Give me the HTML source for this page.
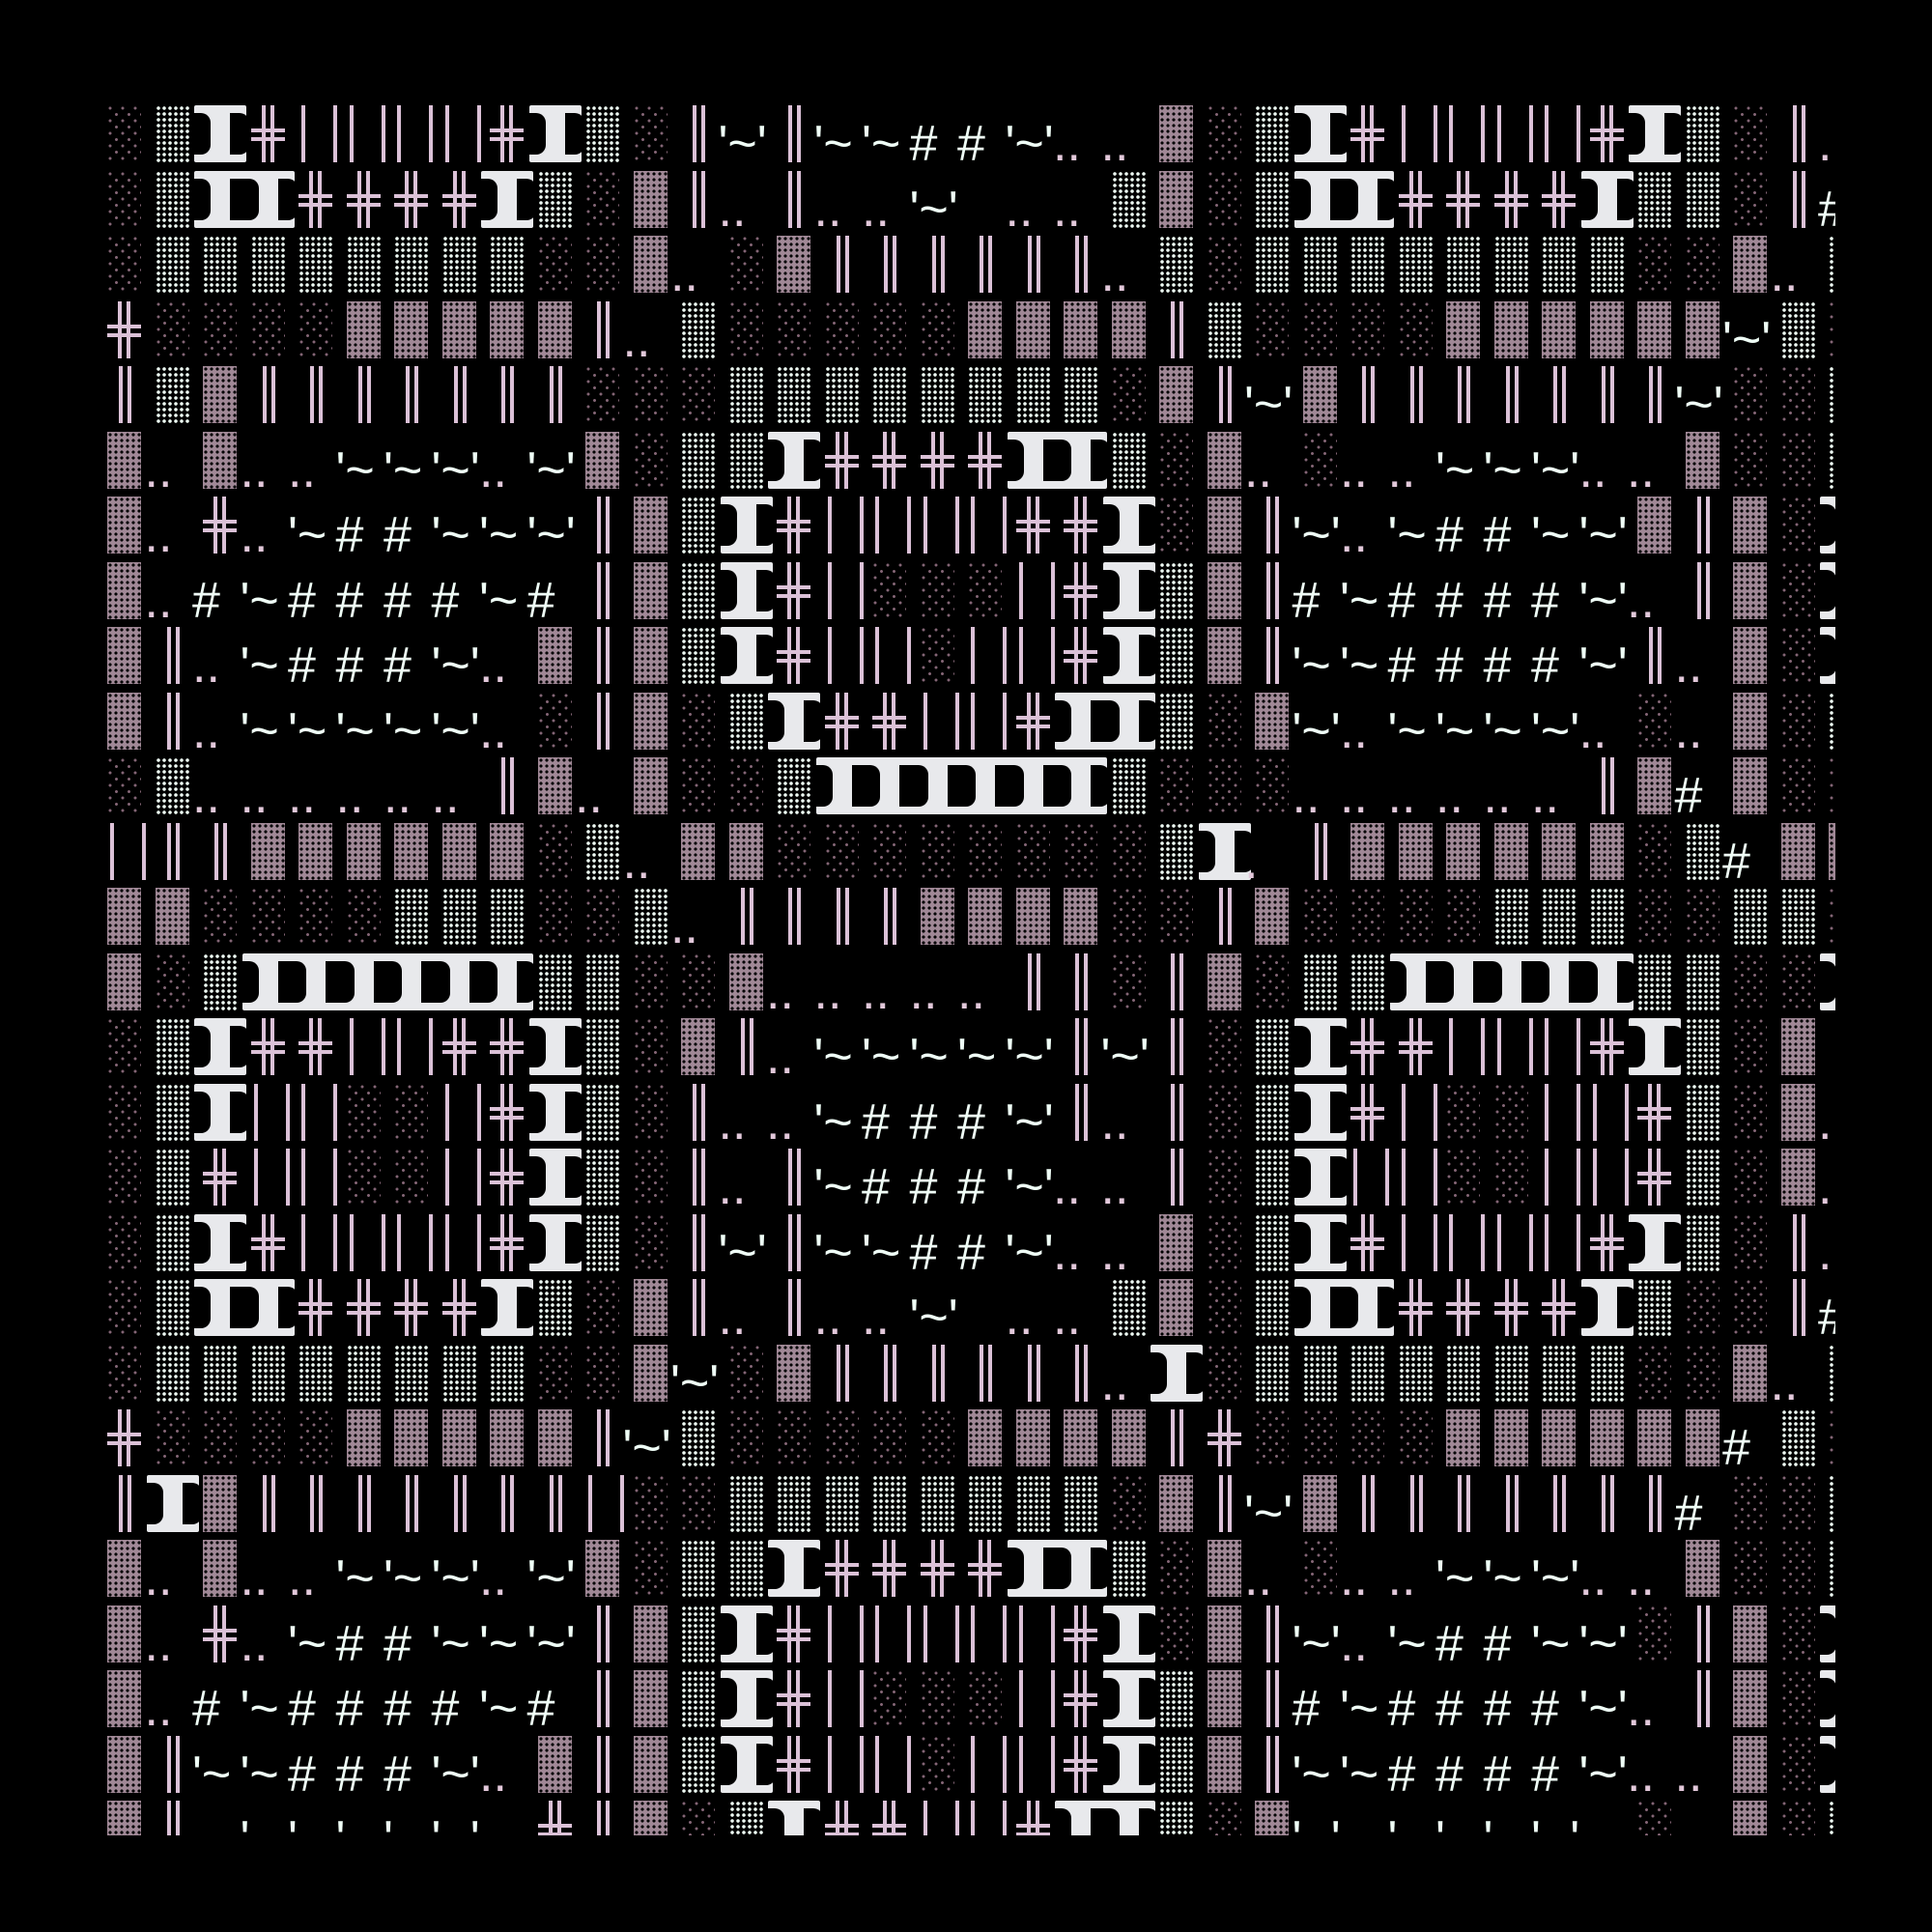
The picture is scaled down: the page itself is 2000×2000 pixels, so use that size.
<!DOCTYPE html>
<html><head><meta charset="utf-8"><style>
html,body{margin:0;padding:0;background:#000}
body{width:2000px;height:2000px;position:relative;overflow:hidden}
#c{position:absolute;left:100px;top:100px;width:1800px;height:1800px;overflow:hidden}
.r{position:absolute;left:11px;display:flex;height:59px}
.r i{position:relative;flex:none;width:49.5px;height:59px;display:block;font-style:normal}
#c i.l::before,#c i.m::before,#c i.d::before,#c i.v::before,#c i.w::before,#c i.x::before,#c i.x::after,#c i.g::before,#c i.g::after{content:"";position:absolute;left:0;top:0;width:35px;height:59px}
#c i.l::before{background:radial-gradient(circle at 3px 3px,#836575 1.3px,transparent 1.7px) 0 0/13px 13px,radial-gradient(circle at 3px 3px,#836575 1.3px,transparent 1.7px) 6.5px 6.5px/13px 13px}
#c i.m::before{background:radial-gradient(circle at 3px 3px,#eefaf3 1.6px,transparent 2px) 0 0/6px 6px}
#c i.d::before{background:radial-gradient(circle at 3px 3px,#000 1.4px,transparent 1.8px) 0 0/6px 6px,#a08896}
#c i.v::before{left:12px;width:13px;background:linear-gradient(90deg,#dbc1d7 0 4px,transparent 4px 9px,#dbc1d7 9px 13px)}
#c i.w::before{left:3px;width:37px;background:linear-gradient(90deg,#dbc1d7 0 4px,transparent 4px 33px,#dbc1d7 33px 37px)}
#c i.x::before{background:linear-gradient(90deg,transparent 11px,#dbc1d7 11px 15px,transparent 15px 20px,#dbc1d7 20px 24px,transparent 24px)}
#c i.x::after{background:linear-gradient(180deg,transparent 24px,#dbc1d7 24px 28px,transparent 28px 33px,#dbc1d7 33px 37px,transparent 37px)}
#c i.g::before{left:-9px;width:54px;background:#e8e9ec;border-radius:2px}
#c i.g::after{left:-12px;top:8px;width:20px;height:43px;background:#000;border-radius:0 10px 10px 0;box-shadow:40px 0 0 #000;z-index:1}
#c i.t{font:52px/59px "Liberation Sans",sans-serif;color:#effdf6;text-indent:-11px;white-space:nowrap;padding-top:11px;box-sizing:border-box}
#c i.p{color:#e2c8da}
</style></head><body><div id="c">
<div class="r" style="top:9px"><i class=l></i><i class=m></i><i class=g></i><i class=x></i><i class=w></i><i class=w></i><i class=w></i><i class=w></i><i class=x></i><i class=g></i><i class=m></i><i class=l></i><i class=v></i><i class=t>'~'</i><i class=v></i><i class=t>'~</i><i class=t>'~</i><i class=t>#</i><i class=t>#</i><i class=t>'~'</i><i class="t p">..</i><i class="t p">..</i><i class=d></i><i class=l></i><i class=m></i><i class=g></i><i class=x></i><i class=w></i><i class=w></i><i class=w></i><i class=w></i><i class=x></i><i class=g></i><i class=m></i><i class=l></i><i class=v></i><i class="t p">.</i></div>
<div class="r" style="top:76.5px"><i class=l></i><i class=m></i><i class=g></i><i class=g></i><i class=x></i><i class=x></i><i class=x></i><i class=x></i><i class=g></i><i class=m></i><i class=l></i><i class=d></i><i class=v></i><i class="t p">..</i><i class=v></i><i class="t p">..</i><i class="t p">..</i><i class=t>'~'</i><i></i><i class="t p">..</i><i class="t p">..</i><i class=m></i><i class=d></i><i class=l></i><i class=m></i><i class=g></i><i class=g></i><i class=x></i><i class=x></i><i class=x></i><i class=x></i><i class=g></i><i class=m></i><i class=m></i><i class=l></i><i class=v></i><i class=t>#</i></div>
<div class="r" style="top:144px"><i class=l></i><i class=m></i><i class=m></i><i class=m></i><i class=m></i><i class=m></i><i class=m></i><i class=m></i><i class=m></i><i class=l></i><i class=l></i><i class=d></i><i class="t p">..</i><i class=l></i><i class=d></i><i class=v></i><i class=v></i><i class=v></i><i class=v></i><i class=v></i><i class=v></i><i class="t p">..</i><i class=m></i><i class=l></i><i class=m></i><i class=m></i><i class=m></i><i class=m></i><i class=m></i><i class=m></i><i class=m></i><i class=m></i><i class=l></i><i class=l></i><i class=d></i><i class="t p">..</i><i class=m></i></div>
<div class="r" style="top:211.5px"><i class=x></i><i class=l></i><i class=l></i><i class=l></i><i class=l></i><i class=d></i><i class=d></i><i class=d></i><i class=d></i><i class=d></i><i class=v></i><i class="t p">..</i><i class=m></i><i class=l></i><i class=l></i><i class=l></i><i class=l></i><i class=l></i><i class=d></i><i class=d></i><i class=d></i><i class=d></i><i class=v></i><i class=m></i><i class=l></i><i class=l></i><i class=l></i><i class=l></i><i class=d></i><i class=d></i><i class=d></i><i class=d></i><i class=d></i><i class=d></i><i class=t>'~'</i><i class=m></i><i class=l></i></div>
<div class="r" style="top:279px"><i class=v></i><i class=m></i><i class=d></i><i class=v></i><i class=v></i><i class=v></i><i class=v></i><i class=v></i><i class=v></i><i class=v></i><i class=l></i><i class=l></i><i class=l></i><i class=m></i><i class=m></i><i class=m></i><i class=m></i><i class=m></i><i class=m></i><i class=m></i><i class=m></i><i class=l></i><i class=d></i><i class=v></i><i class=t>'~'</i><i class=d></i><i class=v></i><i class=v></i><i class=v></i><i class=v></i><i class=v></i><i class=v></i><i class=v></i><i class=t>'~'</i><i class=l></i><i class=l></i><i class=m></i></div>
<div class="r" style="top:346.5px"><i class=d></i><i class="t p">..</i><i class=d></i><i class="t p">..</i><i class="t p">..</i><i class=t>'~</i><i class=t>'~</i><i class=t>'~'</i><i class="t p">..</i><i class=t>'~'</i><i class=d></i><i class=l></i><i class=m></i><i class=m></i><i class=g></i><i class=x></i><i class=x></i><i class=x></i><i class=x></i><i class=g></i><i class=g></i><i class=m></i><i class=l></i><i class=d></i><i class="t p">..</i><i class=l></i><i class="t p">..</i><i class="t p">..</i><i class=t>'~</i><i class=t>'~</i><i class=t>'~'</i><i class="t p">..</i><i class="t p">..</i><i class=d></i><i class=l></i><i class=l></i><i class=m></i></div>
<div class="r" style="top:414px"><i class=d></i><i class="t p">..</i><i class=x></i><i class="t p">..</i><i class=t>'~</i><i class=t>#</i><i class=t>#</i><i class=t>'~</i><i class=t>'~</i><i class=t>'~'</i><i class=v></i><i class=d></i><i class=m></i><i class=g></i><i class=x></i><i class=w></i><i class=w></i><i class=w></i><i class=w></i><i class=x></i><i class=x></i><i class=g></i><i class=l></i><i class=d></i><i class=v></i><i class=t>'~'</i><i class="t p">..</i><i class=t>'~</i><i class=t>#</i><i class=t>#</i><i class=t>'~</i><i class=t>'~'</i><i class=d></i><i class=v></i><i class=d></i><i class=l></i><i class=g></i></div>
<div class="r" style="top:481.5px"><i class=d></i><i class="t p">..</i><i class=t>#</i><i class=t>'~</i><i class=t>#</i><i class=t>#</i><i class=t>#</i><i class=t>#</i><i class=t>'~</i><i class=t>#</i><i class=v></i><i class=d></i><i class=m></i><i class=g></i><i class=x></i><i class=w></i><i class=l></i><i class=l></i><i class=l></i><i class=w></i><i class=x></i><i class=g></i><i class=m></i><i class=d></i><i class=v></i><i class=t>#</i><i class=t>'~</i><i class=t>#</i><i class=t>#</i><i class=t>#</i><i class=t>#</i><i class=t>'~'</i><i class="t p">..</i><i class=v></i><i class=d></i><i class=l></i><i class=g></i></div>
<div class="r" style="top:549px"><i class=d></i><i class=v></i><i class="t p">..</i><i class=t>'~</i><i class=t>#</i><i class=t>#</i><i class=t>#</i><i class=t>'~'</i><i class="t p">..</i><i class=d></i><i class=v></i><i class=d></i><i class=m></i><i class=g></i><i class=x></i><i class=w></i><i class=w></i><i class=l></i><i class=w></i><i class=w></i><i class=x></i><i class=g></i><i class=m></i><i class=d></i><i class=v></i><i class=t>'~</i><i class=t>'~</i><i class=t>#</i><i class=t>#</i><i class=t>#</i><i class=t>#</i><i class=t>'~'</i><i class=v></i><i class="t p">..</i><i class=d></i><i class=l></i><i class=g></i></div>
<div class="r" style="top:616.5px"><i class=d></i><i class=v></i><i class="t p">..</i><i class=t>'~</i><i class=t>'~</i><i class=t>'~</i><i class=t>'~</i><i class=t>'~'</i><i class="t p">..</i><i class=l></i><i class=v></i><i class=d></i><i class=l></i><i class=m></i><i class=g></i><i class=x></i><i class=x></i><i class=w></i><i class=w></i><i class=x></i><i class=g></i><i class=g></i><i class=m></i><i class=l></i><i class=d></i><i class=t>'~'</i><i class="t p">..</i><i class=t>'~</i><i class=t>'~</i><i class=t>'~</i><i class=t>'~'</i><i class="t p">..</i><i class=l></i><i class="t p">..</i><i class=d></i><i class=l></i><i class=m></i></div>
<div class="r" style="top:684px"><i class=l></i><i class=m></i><i class="t p">..</i><i class="t p">..</i><i class="t p">..</i><i class="t p">..</i><i class="t p">..</i><i class="t p">..</i><i class=v></i><i class=d></i><i class="t p">..</i><i class=d></i><i class=l></i><i class=l></i><i class=m></i><i class=g></i><i class=g></i><i class=g></i><i class=g></i><i class=g></i><i class=g></i><i class=m></i><i class=l></i><i class=l></i><i class=l></i><i class="t p">..</i><i class="t p">..</i><i class="t p">..</i><i class="t p">..</i><i class="t p">..</i><i class="t p">..</i><i class=v></i><i class=d></i><i class=t>#</i><i class=d></i><i class=l></i><i class=l></i></div>
<div class="r" style="top:751.5px"><i class=w></i><i class=v></i><i class=v></i><i class=d></i><i class=d></i><i class=d></i><i class=d></i><i class=d></i><i class=d></i><i class=l></i><i class=m></i><i class="t p">..</i><i class=d></i><i class=d></i><i class=l></i><i class=l></i><i class=l></i><i class=l></i><i class=l></i><i class=l></i><i class=l></i><i class=l></i><i class=m></i><i class=g></i><i class="t p">.</i><i class=v></i><i class=d></i><i class=d></i><i class=d></i><i class=d></i><i class=d></i><i class=d></i><i class=l></i><i class=m></i><i class=t>#</i><i class=d></i><i class=d></i></div>
<div class="r" style="top:819px"><i class=d></i><i class=d></i><i class=l></i><i class=l></i><i class=l></i><i class=l></i><i class=m></i><i class=m></i><i class=m></i><i class=l></i><i class=l></i><i class=m></i><i class="t p">..</i><i class=v></i><i class=v></i><i class=v></i><i class=v></i><i class=d></i><i class=d></i><i class=d></i><i class=d></i><i class=l></i><i class=l></i><i class=v></i><i class=d></i><i class=l></i><i class=l></i><i class=l></i><i class=l></i><i class=m></i><i class=m></i><i class=m></i><i class=l></i><i class=l></i><i class=m></i><i class=m></i><i class=l></i></div>
<div class="r" style="top:886.5px"><i class=d></i><i class=l></i><i class=m></i><i class=g></i><i class=g></i><i class=g></i><i class=g></i><i class=g></i><i class=g></i><i class=m></i><i class=m></i><i class=l></i><i class=l></i><i class=d></i><i class="t p">..</i><i class="t p">..</i><i class="t p">..</i><i class="t p">..</i><i class="t p">..</i><i class=v></i><i class=v></i><i class=l></i><i class=v></i><i class=d></i><i class=l></i><i class=m></i><i class=m></i><i class=g></i><i class=g></i><i class=g></i><i class=g></i><i class=g></i><i class=m></i><i class=m></i><i class=l></i><i class=l></i><i class=g></i></div>
<div class="r" style="top:954px"><i class=l></i><i class=m></i><i class=g></i><i class=x></i><i class=x></i><i class=w></i><i class=w></i><i class=x></i><i class=x></i><i class=g></i><i class=m></i><i class=l></i><i class=d></i><i class=v></i><i class="t p">..</i><i class=t>'~</i><i class=t>'~</i><i class=t>'~</i><i class=t>'~</i><i class=t>'~'</i><i class=v></i><i class=t>'~'</i><i class=v></i><i class=l></i><i class=m></i><i class=g></i><i class=x></i><i class=x></i><i class=w></i><i class=w></i><i class=w></i><i class=x></i><i class=g></i><i class=m></i><i class=l></i><i class=d></i><i></i></div>
<div class="r" style="top:1021.5px"><i class=l></i><i class=m></i><i class=g></i><i class=w></i><i class=w></i><i class=l></i><i class=l></i><i class=w></i><i class=x></i><i class=g></i><i class=m></i><i class=l></i><i class=v></i><i class="t p">..</i><i class="t p">..</i><i class=t>'~</i><i class=t>#</i><i class=t>#</i><i class=t>#</i><i class=t>'~'</i><i class=v></i><i class="t p">..</i><i class=v></i><i class=l></i><i class=m></i><i class=g></i><i class=x></i><i class=w></i><i class=l></i><i class=l></i><i class=w></i><i class=w></i><i class=x></i><i class=m></i><i class=l></i><i class=d></i><i class="t p">.</i></div>
<div class="r" style="top:1089px"><i class=l></i><i class=m></i><i class=x></i><i class=w></i><i class=w></i><i class=l></i><i class=l></i><i class=w></i><i class=x></i><i class=g></i><i class=m></i><i class=l></i><i class=v></i><i class="t p">..</i><i class=v></i><i class=t>'~</i><i class=t>#</i><i class=t>#</i><i class=t>#</i><i class=t>'~'</i><i class="t p">..</i><i class="t p">..</i><i class=v></i><i class=l></i><i class=m></i><i class=g></i><i class=w></i><i class=w></i><i class=l></i><i class=l></i><i class=w></i><i class=w></i><i class=x></i><i class=m></i><i class=l></i><i class=d></i><i class="t p">.</i></div>
<div class="r" style="top:1156.5px"><i class=l></i><i class=m></i><i class=g></i><i class=x></i><i class=w></i><i class=w></i><i class=w></i><i class=w></i><i class=x></i><i class=g></i><i class=m></i><i class=l></i><i class=v></i><i class=t>'~'</i><i class=v></i><i class=t>'~</i><i class=t>'~</i><i class=t>#</i><i class=t>#</i><i class=t>'~'</i><i class="t p">..</i><i class="t p">..</i><i class=d></i><i class=l></i><i class=m></i><i class=g></i><i class=x></i><i class=w></i><i class=w></i><i class=w></i><i class=w></i><i class=x></i><i class=g></i><i class=m></i><i class=l></i><i class=v></i><i class="t p">.</i></div>
<div class="r" style="top:1224px"><i class=l></i><i class=m></i><i class=g></i><i class=g></i><i class=x></i><i class=x></i><i class=x></i><i class=x></i><i class=g></i><i class=m></i><i class=l></i><i class=d></i><i class=v></i><i class="t p">..</i><i class=v></i><i class="t p">..</i><i class="t p">..</i><i class=t>'~'</i><i></i><i class="t p">..</i><i class="t p">..</i><i class=m></i><i class=d></i><i class=l></i><i class=m></i><i class=g></i><i class=g></i><i class=x></i><i class=x></i><i class=x></i><i class=x></i><i class=g></i><i class=m></i><i class=l></i><i class=l></i><i class=v></i><i class=t>#</i></div>
<div class="r" style="top:1291.5px"><i class=l></i><i class=m></i><i class=m></i><i class=m></i><i class=m></i><i class=m></i><i class=m></i><i class=m></i><i class=m></i><i class=l></i><i class=l></i><i class=d></i><i class=t>'~'</i><i class=l></i><i class=d></i><i class=v></i><i class=v></i><i class=v></i><i class=v></i><i class=v></i><i class=v></i><i class="t p">..</i><i class=g></i><i class=l></i><i class=m></i><i class=m></i><i class=m></i><i class=m></i><i class=m></i><i class=m></i><i class=m></i><i class=m></i><i class=l></i><i class=l></i><i class=d></i><i class="t p">..</i><i class=m></i></div>
<div class="r" style="top:1359px"><i class=x></i><i class=l></i><i class=l></i><i class=l></i><i class=l></i><i class=d></i><i class=d></i><i class=d></i><i class=d></i><i class=d></i><i class=v></i><i class=t>'~'</i><i class=m></i><i class=l></i><i class=l></i><i class=l></i><i class=l></i><i class=l></i><i class=d></i><i class=d></i><i class=d></i><i class=d></i><i class=v></i><i class=x></i><i class=l></i><i class=l></i><i class=l></i><i class=l></i><i class=d></i><i class=d></i><i class=d></i><i class=d></i><i class=d></i><i class=d></i><i class=t>#</i><i class=m></i><i class=l></i></div>
<div class="r" style="top:1426.5px"><i class=v></i><i class=g></i><i class=d></i><i class=v></i><i class=v></i><i class=v></i><i class=v></i><i class=v></i><i class=v></i><i class=v></i><i class=w></i><i class=l></i><i class=l></i><i class=m></i><i class=m></i><i class=m></i><i class=m></i><i class=m></i><i class=m></i><i class=m></i><i class=m></i><i class=l></i><i class=d></i><i class=v></i><i class=t>'~'</i><i class=d></i><i class=v></i><i class=v></i><i class=v></i><i class=v></i><i class=v></i><i class=v></i><i class=v></i><i class=t>#</i><i class=l></i><i class=l></i><i class=m></i></div>
<div class="r" style="top:1494px"><i class=d></i><i class="t p">..</i><i class=d></i><i class="t p">..</i><i class="t p">..</i><i class=t>'~</i><i class=t>'~</i><i class=t>'~'</i><i class="t p">..</i><i class=t>'~'</i><i class=d></i><i class=l></i><i class=m></i><i class=m></i><i class=g></i><i class=x></i><i class=x></i><i class=x></i><i class=x></i><i class=g></i><i class=g></i><i class=m></i><i class=l></i><i class=d></i><i class="t p">..</i><i class=l></i><i class="t p">..</i><i class="t p">..</i><i class=t>'~</i><i class=t>'~</i><i class=t>'~'</i><i class="t p">..</i><i class="t p">..</i><i class=d></i><i class=l></i><i class=l></i><i class=m></i></div>
<div class="r" style="top:1561.5px"><i class=d></i><i class="t p">..</i><i class=x></i><i class="t p">..</i><i class=t>'~</i><i class=t>#</i><i class=t>#</i><i class=t>'~</i><i class=t>'~</i><i class=t>'~'</i><i class=v></i><i class=d></i><i class=m></i><i class=g></i><i class=x></i><i class=w></i><i class=w></i><i class=w></i><i class=w></i><i class=w></i><i class=x></i><i class=g></i><i class=l></i><i class=d></i><i class=v></i><i class=t>'~'</i><i class="t p">..</i><i class=t>'~</i><i class=t>#</i><i class=t>#</i><i class=t>'~</i><i class=t>'~'</i><i class=l></i><i class=v></i><i class=d></i><i class=l></i><i class=g></i></div>
<div class="r" style="top:1629px"><i class=d></i><i class="t p">..</i><i class=t>#</i><i class=t>'~</i><i class=t>#</i><i class=t>#</i><i class=t>#</i><i class=t>#</i><i class=t>'~</i><i class=t>#</i><i class=v></i><i class=d></i><i class=m></i><i class=g></i><i class=x></i><i class=w></i><i class=l></i><i class=l></i><i class=l></i><i class=w></i><i class=x></i><i class=g></i><i class=m></i><i class=d></i><i class=v></i><i class=t>#</i><i class=t>'~</i><i class=t>#</i><i class=t>#</i><i class=t>#</i><i class=t>#</i><i class=t>'~'</i><i class="t p">..</i><i class=v></i><i class=d></i><i class=l></i><i class=g></i></div>
<div class="r" style="top:1696.5px"><i class=d></i><i class=v></i><i class=t>'~</i><i class=t>'~</i><i class=t>#</i><i class=t>#</i><i class=t>#</i><i class=t>'~'</i><i class="t p">..</i><i class=d></i><i class=v></i><i class=d></i><i class=m></i><i class=g></i><i class=x></i><i class=w></i><i class=w></i><i class=l></i><i class=w></i><i class=w></i><i class=x></i><i class=g></i><i class=m></i><i class=d></i><i class=v></i><i class=t>'~</i><i class=t>'~</i><i class=t>#</i><i class=t>#</i><i class=t>#</i><i class=t>#</i><i class=t>'~'</i><i class="t p">..</i><i class="t p">..</i><i class=d></i><i class=l></i><i class=g></i></div>
<div class="r" style="top:1764px"><i class=d></i><i class=v></i><i></i><i class=t>'~</i><i class=t>'~</i><i class=t>'~</i><i class=t>'~</i><i class=t>'~'</i><i></i><i class=x></i><i class=v></i><i class=d></i><i class=l></i><i class=m></i><i class=g></i><i class=x></i><i class=x></i><i class=w></i><i class=w></i><i class=x></i><i class=g></i><i class=g></i><i class=m></i><i class=l></i><i class=d></i><i class=t>'~'</i><i></i><i class=t>'~</i><i class=t>'~</i><i class=t>'~</i><i class=t>'~'</i><i></i><i class=l></i><i></i><i class=d></i><i class=l></i><i class=m></i></div>
</div></body></html>
